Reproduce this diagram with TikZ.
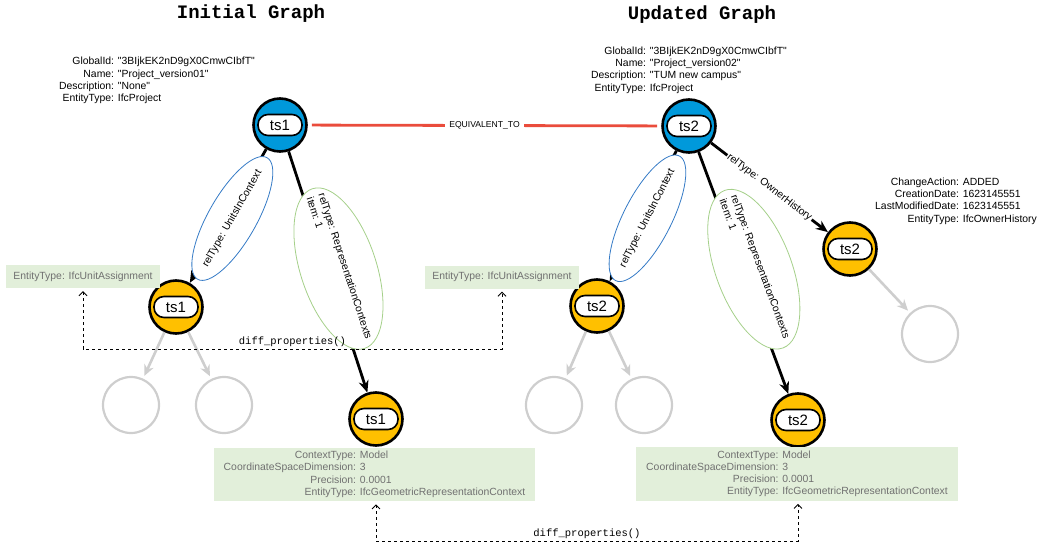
\documentclass[tikz,border=0pt]{standalone}
\usepackage{fontspec}
\setmainfont{Liberation Sans}[Ligatures=TeXOff]
\setmonofont{Liberation Mono}
\usetikzlibrary{arrows.meta,shapes.geometric}
\definecolor{nodeblue}{RGB}{0,153,219}
\definecolor{nodeyellow}{RGB}{255,192,0}
\definecolor{eqred}{RGB}{234,76,60}
\definecolor{propgreen}{RGB}{226,239,218}
\definecolor{proptext}{RGB}{112,112,112}
\definecolor{ghost}{RGB}{206,206,206}
\definecolor{unitblue}{RGB}{52,122,198}
\definecolor{reprgreen}{RGB}{165,208,138}
\tikzstyle{entity}=[circle, draw, line width=2.6pt, minimum size=53pt, inner sep=0pt]
\tikzstyle{project}=[entity, fill=nodeblue]
\tikzstyle{member}=[entity, fill=nodeyellow]
\tikzstyle{pill}=[draw, fill=white, line width=1.6pt, rounded corners=10pt, minimum width=44pt, minimum height=21pt, inner sep=0pt, font=\fontsize{15}{15}\selectfont]
\tikzstyle{ghostnode}=[circle, draw=ghost, line width=2.2pt, minimum size=56pt]
\tikzstyle{labelsty}=[font=\fontsize{10.4}{12.3}\selectfont]
\tikzstyle{props}=[labelsty, inner sep=0pt]
\tikzstyle{greenbox}=[labelsty, fill=propgreen, text=proptext, inner xsep=7pt, inner ysep=2pt]
\tikzstyle{title}=[font=\ttfamily\bfseries\fontsize{19}{19}\selectfont, anchor=base]
\tikzstyle{rel}=[line width=2.8pt, -{Stealth[length=12pt,width=10pt]}]
\tikzstyle{ghostedge}=[line width=2.6pt, ghost, shorten >=3pt, -{Stealth[length=11pt,width=10pt]}]
\tikzstyle{eqedge}=[line width=2.8pt, eqred, shorten <=4pt, shorten >=4pt]
\tikzstyle{eqlbl}=[fill=white, text=black, font=\fontsize{8.6}{9}\selectfont, inner xsep=4pt]
\tikzstyle{unitlbl}=[ellipse, draw=unitblue, line width=0.8pt, fill=white, sloped, yshift=-5pt, minimum width=140pt, minimum height=48pt, inner sep=0pt, labelsty]
\tikzstyle{reprlbl}=[ellipse, draw=reprgreen, line width=0.8pt, fill=white, sloped, yshift=11pt, minimum width=168pt, minimum height=76pt, inner sep=0pt, labelsty]
\tikzstyle{ownerlbl}=[fill=white, sloped, inner sep=1pt, labelsty]
\tikzstyle{diffedge}=[dashed, line width=0.9pt, shorten <=3pt, shorten >=3pt, {Straight Barb[length=4pt,width=8pt]}-{Straight Barb[length=4pt,width=8pt]}]
\tikzstyle{difflbl}=[font=\ttfamily\fontsize{10.5}{11}\selectfont, inner sep=2pt]

\begin{document}
\begin{tikzpicture}[x=1pt,y=-1pt]
	\useasboundingbox (0,0) rectangle (1039,546);

	\node[title] (ttl1) at (251,18.3) {Initial Graph};
	\node[title] (ttl2) at (702,19.5) {Updated Graph};

	% entities
	\node[project,label={[pill]center:ts1}] (p1) at (280,125) {};
	\node[project,label={[pill]center:ts2}] (p2) at (689,126) {};
	\node[member,label={[pill]center:ts1}] (u1) at (176,307) {};
	\node[member,label={[pill]center:ts2}] (u2) at (597,306) {};
	\node[member,label={[pill]center:ts1}] (c1) at (376,419) {};
	\node[member,label={[pill]center:ts2}] (c2) at (798,420) {};
	\node[member,label={[pill]center:ts2}] (h2) at (850,249) {};

	\node[ghostnode] (g1a) at (131,405) {};
	\node[ghostnode] (g1b) at (224,405) {};
	\node[ghostnode] (g2a) at (554,405) {};
	\node[ghostnode] (g2b) at (644,405) {};
	\node[ghostnode] (g2c) at (930,334) {};

	% properties
	\node[props,anchor=north west] (p1props) at (59,56) {\begin{tabular}{@{}r@{ }l@{}}
		GlobalId: & "3BIjkEK2nD9gX0CmwCIbfT"\\
		Name: & "Project\_version01"\\
		Description: & "None"\\
		EntityType: & IfcProject
	\end{tabular}};
	\node[props,anchor=north west] (p2props) at (591,45.5) {\begin{tabular}{@{}r@{ }l@{}}
		GlobalId: & "3BIjkEK2nD9gX0CmwCIbfT"\\
		Name: & "Project\_version02"\\
		Description: & "TUM new campus"\\
		EntityType: & IfcProject
	\end{tabular}};
	\node[props,anchor=north west] (h2props) at (875,176.5) {\begin{tabular}{@{}r@{ }l@{}}
		ChangeAction: & ADDED\\
		CreationDate: & 1623145551\\
		LastModifiedDate: & 1623145551\\
		EntityType: & IfcOwnerHistory
	\end{tabular}};

	\node[greenbox,minimum width=150pt,minimum height=23pt] (ua1) at (83,276.5) {EntityType: IfcUnitAssignment};
	\node[greenbox,minimum width=150pt,minimum height=23pt] (ua2) at (502,277) {EntityType: IfcUnitAssignment};

	\node[greenbox,minimum width=321pt] (ctx1) at (374.5,474.5) {\begin{tabular}{@{}r@{ }l@{}}
		ContextType: & Model\\
		CoordinateSpaceDimension: & 3\\
		Precision: & 0.0001\\
		EntityType: & IfcGeometricRepresentationContext
	\end{tabular}};
	\node[greenbox,minimum width=322pt] (ctx2) at (797,474) {\begin{tabular}{@{}r@{ }l@{}}
		ContextType: & Model\\
		CoordinateSpaceDimension: & 3\\
		Precision: & 0.0001\\
		EntityType: & IfcGeometricRepresentationContext
	\end{tabular}};

	% relations
	\draw[eqedge] (p1) -- node[eqlbl]{EQUIVALENT\_TO} (p2);

	\draw[rel] (p1) to node[unitlbl]{\makebox[0pt]{relType: UnitsInContext}} (u1);
	\draw[rel] (p1) to node[reprlbl]{\makebox[0pt]{\begin{tabular}{@{}l@{}}relType: RepresentationContexts\\ item: 1\end{tabular}}} (c1);
	\draw[rel] (p2) to node[unitlbl]{\makebox[0pt]{relType: UnitsInContext}} (u2);
	\draw[rel] (p2) to node[reprlbl]{\makebox[0pt]{\begin{tabular}{@{}l@{}}relType: RepresentationContexts\\ item: 1\end{tabular}}} (c2);
	\draw[rel] (p2) to node[ownerlbl]{relType: OwnerHistory} (h2);

	\draw[ghostedge] (u1) -- (g1a);
	\draw[ghostedge] (u1) -- (g1b);
	\draw[ghostedge] (u2) -- (g2a);
	\draw[ghostedge] (u2) -- (g2b);
	\draw[ghostedge] (h2) -- (g2c);

	% diffs
	\draw[diffedge] (ua1.south) -- (ua1.south |- 0,349) -- node[above,difflbl]{diff\_properties()} (ua2.south |- 0,349) -- (ua2.south);
	\draw[diffedge] (c1 |- ctx1.south) -- (c1 |- 0,541) -- node[above,difflbl]{diff\_properties()} (c2 |- 0,541) -- (c2 |- ctx2.south);
\end{tikzpicture}
\end{document}
